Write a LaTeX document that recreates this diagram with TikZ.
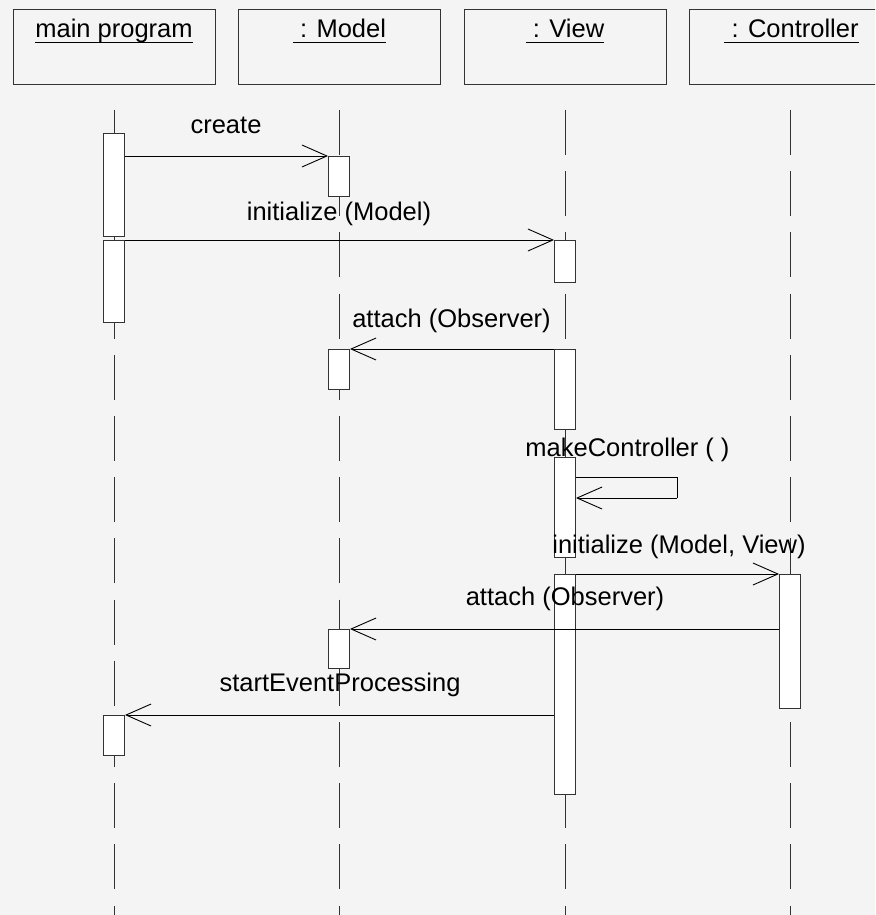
\documentclass[tikz,border=0pt]{standalone}
\usepackage{fontspec}
\setmainfont{Liberation Sans}
\usetikzlibrary{arrows.meta}
\definecolor{bg}{HTML}{F4F4F4}
\definecolor{ln}{HTML}{333333}
\begin{document}
\begin{tikzpicture}[x=1pt,y=-1pt,
  head/.style={draw=ln, line width=0.9pt, minimum width=202pt, minimum height=75pt, anchor=north west, inner sep=0pt},
  act/.style={draw=ln, fill=white, line width=0.9pt, minimum width=21pt, inner sep=0pt, anchor=north},
  msg/.style={draw=black, line width=0.9pt, -{Straight Barb[length=25pt,width=22pt]}},
  selfmsg/.style={draw=black, line width=0.9pt},
  lbl/.style={anchor=base, inner sep=0pt, font=\fontsize{25.5}{30}\selectfont},
  life/.style={draw=ln, line width=0.9pt, dash pattern=on 45pt off 16.2pt},
  uline/.style={draw=black, line width=0.9pt}]
\clip (0,0) rectangle (875,915);
\fill[bg] (0,0) rectangle (875,915);
\useasboundingbox (0,0) rectangle (875,915);
% headers
\node[head] (hMain) at (13,9) {};
\node[head] (hModel) at (238,9) {};
\node[head] (hView) at (464,9) {};
\node[head] (hCtrl) at (689,9) {};
\node[lbl] (tMain) at (114,38) {main program};
\node[lbl] (tModel) at (339.5,38) {\ : Model};
\node[lbl] (tView) at (565,38) {\ : View};
\node[lbl] (tCtrl) at (791.5,38) {\ : Controller};
\foreach \n in {tMain,tModel,tView,tCtrl}
  \draw[uline] ([yshift=-4pt]\n.base west) -- ([yshift=-4pt]\n.base east);
% lifelines
\foreach \h in {hMain,hModel,hView,hCtrl}
  \draw[life] ([yshift=-25pt]\h.south) -- ++(0,810);
% activations
\node[act, minimum height=103pt] (mainA1) at (114,133) {};
\node[act, minimum height=82pt] (mainA2) at (114,240) {};
\node[act, minimum height=40pt] (mainA3) at (114,715) {};
\node[act, minimum height=40pt] (modelA1) at (339,156) {};
\node[act, minimum height=40pt] (modelA2) at (339,349) {};
\node[act, minimum height=39pt] (modelA3) at (339,629) {};
\node[act, minimum height=42pt] (viewA1) at (565,240) {};
\node[act, minimum height=80pt] (viewA2) at (565,349) {};
\node[act, minimum height=100pt] (viewA3) at (565,457) {};
\node[act, minimum height=220pt] (viewA4) at (565,574) {};
\node[act, minimum height=134pt] (ctrlA1) at (790,574) {};
% messages
\draw[msg] (mainA1.east |- modelA1.north) -- (modelA1.north west);
\draw[msg] (mainA2.north east) -- (viewA1.north west);
\draw[msg] (viewA2.north west) -- (modelA2.north east);
\coordinate (s1) at (677,477);
\coordinate (s2) at (677,498);
\draw[selfmsg] (viewA3.east |- s1) -- (s1) -- (s2);
\draw[msg] (s2) -- (viewA3.east |- s2);
\draw[msg] (viewA4.north east) -- (ctrlA1.north west);
\draw[msg] (ctrlA1.west |- modelA3.north) -- (modelA3.north east);
\draw[msg] (viewA4.west |- mainA3.north) -- (mainA3.north east);
% labels
\node[lbl] (l1) at (226,133) {create};
\node[lbl] (l2) at (339,220) {initialize (Model)};
\node[lbl] (l3) at (451.5,327) {attach (Observer)};
\node[lbl] (l4) at (627.5,456) {makeController ( )};
\node[lbl] (l5) at (679,553) {initialize (Model, View)};
\node[lbl] (l6) at (565,605) {attach (Observer)};
\node[lbl] (l7) at (340,691) {startEventProcessing};
\end{tikzpicture}
\end{document}
